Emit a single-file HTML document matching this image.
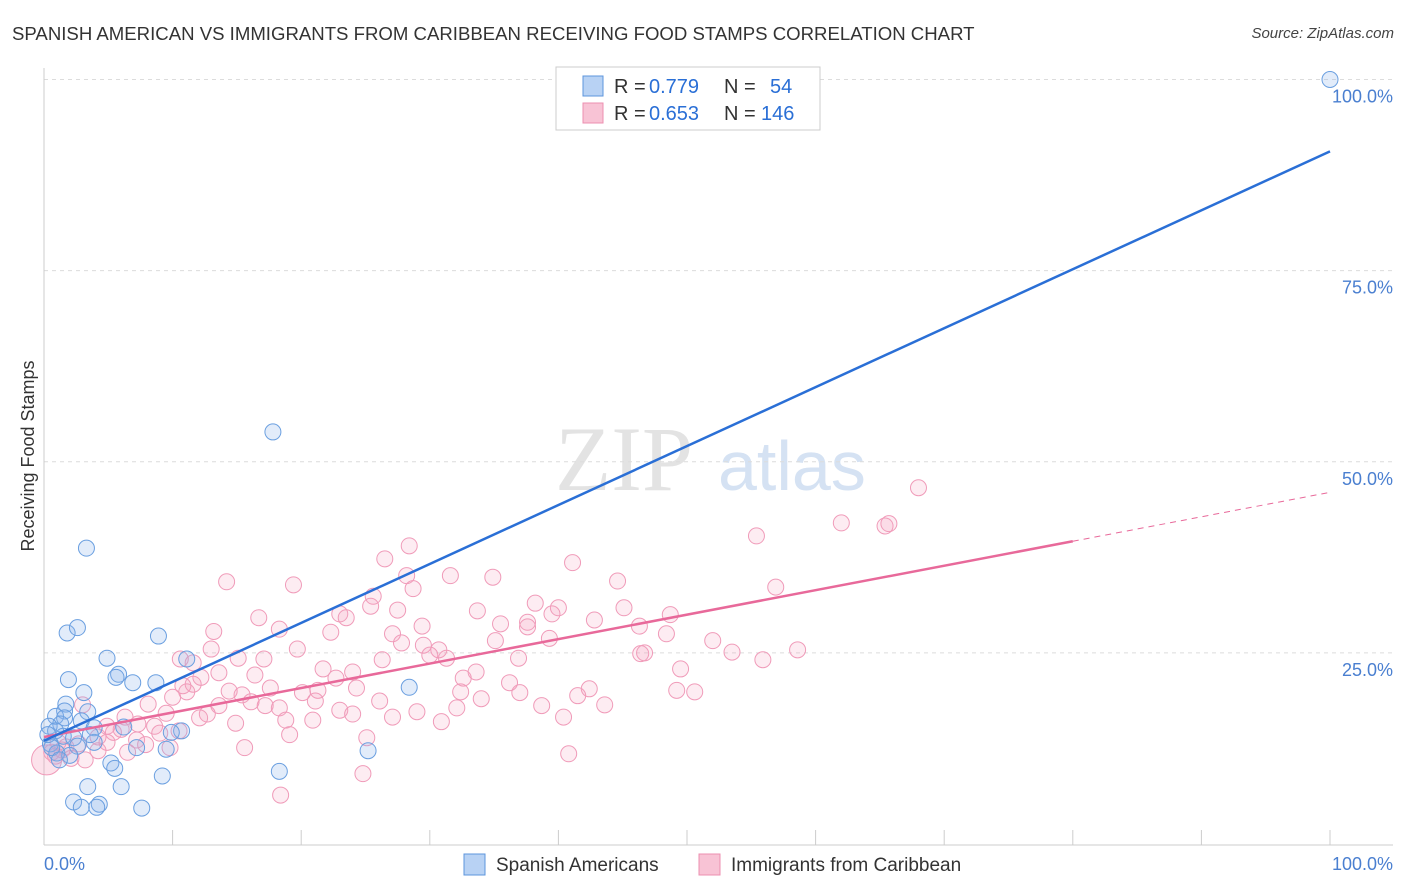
<!DOCTYPE html>
<html><head><meta charset="utf-8">
<style>
body{margin:0;background:#fff;font-family:"Liberation Sans",sans-serif;}
#wrap{position:relative;width:1406px;height:892px;overflow:hidden;}
.t{position:absolute;white-space:nowrap;}
</style></head><body>
<div id="wrap">
<div class="t" style="left:12px;top:23px;font-size:18.6px;color:#333;">SPANISH AMERICAN VS IMMIGRANTS FROM CARIBBEAN RECEIVING FOOD STAMPS CORRELATION CHART</div>
<div class="t" style="right:12px;top:25px;font-size:15px;color:#444;font-style:italic;">Source: ZipAtlas.com</div>
<svg id="svg" width="1406" height="892" style="position:absolute;left:0;top:0"></svg>
</div>
<script>
const blueX=[100,17.8,3.3,1.8,2.6,8.9,4.9,11.1,5.8,5.6,1.9,6.9,8.7,28.4,3.1,1.7,1.6,3.4,0.9,1.6,2.9,1.3,0.4,6.2,3.9,0.9,10.7,9.9,1.5,2.3,3.9,0.5,2.6,7.2,9.5,25.2,1,2,5.2,5.5,18.3,9.2,3.4,6,2.3,4.3,2.9,4.1,7.6,0.6,1.2,0.3,3.6];
const blueY=[100,53.9,38.7,27.6,28.3,27.2,24.3,24.2,22.2,21.8,21.5,21.1,21.1,20.5,19.8,18.3,17.4,17.3,16.7,16.5,16.1,15.7,15.4,15.3,15.2,14.8,14.8,14.6,14.1,13.9,13.3,13.1,12.8,12.6,12.4,12.2,11.9,11.6,10.6,9.9,9.5,8.9,7.5,7.5,5.5,5.2,4.8,4.8,4.7,12.6,11,14.3,14.3];
const pinkX=[68,62,65.4,65.7,55.4,28.4,26.5,41.1,28.2,31.6,34.9,14.2,44.6,19.4,56.9,28.7,25.6,25.4,38.2,45.1,40,33.7,39.5,48.7,23,23.5,27.5,16.7,42.8,35.5,37.6,29.4,46.3,18.3,37.6,13.2,22.3,27.1,48.4,39.3,35.1,27.8,52,29.5,13,19.7,30.7,58.6,46.7,53.5,46.4,31.3,30,15.1,17.1,26.3,36.9,55.9,10.6,11.6,21.7,49.5,33.6,24,13.6,12.2,16.4,22.7,32.6,11.6,36.2,10.8,24.3,17.6,21.3,42.4,49.2,50.6,32.4,14.4,37,15.4,20.1,11.1,41.5,10,34,26.1,16.1,21.1,43.6,8.1,3,38.7,13.6,17.2,32.1,23,29,9.5,24,12.7,18.3,27.1,40.4,6.3,20.9,18.8,30.9,14.9,12.1,7.3,8.6,4.9,6,10.5,9,19.1,4.2,25.1,7.2,4.9,2.7,1.7,15.6,1.4,40.8,0.9,2.1,24.8,18.4,5.4,7.9,9.8,4.2,6.5,1.1,0.6,3.2];
const pinkY=[46.6,42,41.6,41.9,40.3,39,37.3,36.8,35.1,35.1,34.9,34.3,34.4,33.9,33.6,33.4,32.4,31.1,31.5,30.9,30.9,30.5,30.1,30,30.1,29.6,30.6,29.6,29.3,28.8,29,28.5,28.5,28.1,28.4,27.8,27.7,27.5,27.5,26.9,26.6,26.3,26.6,26,25.5,25.5,25.4,25.4,25,25.1,24.9,24.3,24.7,24.3,24.2,24.1,24.3,24.1,24.2,23.7,22.9,22.9,22.5,22.5,22.4,21.8,22.1,21.7,21.7,20.9,21.1,20.7,20.4,20.4,20.1,20.3,20.1,19.9,19.9,20,19.8,19.5,19.8,19.9,19.4,19.2,19,18.7,18.6,18.7,18.2,18.3,18.2,18.1,18.1,18.1,17.8,17.5,17.3,17.1,17,17,17.8,16.6,16.6,16.6,16.2,16.2,16,15.8,16.5,15.7,15.4,15.4,15,14.8,14.5,14.3,14,13.9,13.6,13.3,13.1,12.7,12.6,12.3,11.8,11.5,11.2,9.2,6.4,14.6,13,12.6,12.2,12,13.3,12,11];
const blueLine=[13.5,90.6];
const pinkLine=[14,46];
const pinkSolidEnd=80;
const yTicks=[25,50,75,100];
const xTickLabels=["0.0%","100.0%"];

const X0=44,XW=1286,Y0=844,YH=764.5;
const sx=v=>X0+v/100*XW, sy=v=>Y0-v/100*YH;
const svg=document.getElementById('svg');
function el(tag,attrs,parent){const e=document.createElementNS('http://www.w3.org/2000/svg',tag);for(const k in attrs)e.setAttribute(k,attrs[k]);(parent||svg).appendChild(e);return e;}

let wm=el('text',{x:555,y:490,'font-size':92,fill:'#e3e3e3','font-family':'Liberation Serif,serif'});wm.textContent='ZIP';


let wm2=el('text',{x:718,y:490,'font-size':70,fill:'#d5e2f3','font-family':'Liberation Sans,sans-serif'});wm2.textContent='atlas';



yTicks.forEach(t=>{
 const g=el('line',{x1:X0,x2:1393,y1:sy(t),y2:sy(t),stroke:'#dcdcdc','stroke-dasharray':'4,4'});
 
 
 const l=el('text',{x:1393,y:sy(t)+23,'text-anchor':'end','font-size':18,fill:'#4a7fd0'});
 l.textContent=t.toFixed(1)+'%';
 
 
});
let ax=el('line',{x1:X0,x2:X0,y1:68,y2:845,stroke:'#ccc'});


let bx=el('line',{x1:X0,x2:1393,y1:845,y2:845,stroke:'#ccc'});


for(let i=0;i<=10;i++){
 const tk=el('line',{x1:sx(i*10),x2:sx(i*10),y1:830,y2:845,stroke:'#ccc'});
 
 
}
let xl0=el('text',{x:44,y:870,'font-size':18,fill:'#4a7fd0'});xl0.textContent=xTickLabels[0];


let xl1=el('text',{x:1393,y:870,'text-anchor':'end','font-size':18,fill:'#4a7fd0'});xl1.textContent=xTickLabels[1];


let yt=el('text',{x:34,y:456,'font-size':18,fill:'#333',transform:'rotate(-90 34 456)','text-anchor':'middle'});yt.textContent='Receiving Food Stamps';



pinkX.forEach((x,i)=>{
 const c=el('circle',{cx:sx(x),cy:sy(pinkY[i]),r:8,fill:'rgba(244,160,190,0.2)',stroke:'#f09bb9','stroke-width':1});
 
 
});
let big=el('circle',{cx:sx(0.2),cy:sy(11),r:15,fill:'rgba(244,160,190,0.3)',stroke:'#f09bb9','stroke-width':1});


blueX.forEach((x,i)=>{
 const c=el('circle',{cx:sx(x),cy:sy(blueY[i]),r:8,fill:'rgba(140,180,235,0.25)',stroke:'#6a9fe0','stroke-width':1});
 
 
});
const py=x=>pinkLine[0]+(pinkLine[1]-pinkLine[0])*x/100;
let pl=el('line',{x1:sx(0),y1:sy(py(0)),x2:sx(pinkSolidEnd),y2:sy(py(pinkSolidEnd)),stroke:'#e8699a','stroke-width':2.5});


let pd=el('line',{x1:sx(pinkSolidEnd),y1:sy(py(pinkSolidEnd)),x2:sx(100),y2:sy(py(100)),stroke:'#e8699a','stroke-width':1,'stroke-dasharray':'6,5'});


let bl=el('line',{x1:sx(0),y1:sy(blueLine[0]),x2:sx(100),y2:sy(blueLine[1]),stroke:'#2a6fd6','stroke-width':2.5});



let lg=el('rect',{x:556,y:67,width:264,height:63,fill:'#fff',stroke:'#ccc'});


[[86,'#b8d2f4','#5d95dc','0.779','54',770],[113,'#f8c3d5','#ec8fb0','0.653','146',761]].forEach(r=>{
 const s=el('rect',{x:583,y:r[0]-10,width:20,height:20,fill:r[1],stroke:r[2]});
 
 
 const a=el('text',{x:614,y:r[0]+7,'font-size':20,fill:'#333'});a.textContent='R =';
 
 
 const b=el('text',{x:649,y:r[0]+7,'font-size':20,fill:'#2a6fd6'});b.textContent=r[3];
 
 
 const c=el('text',{x:724,y:r[0]+7,'font-size':20,fill:'#333'});c.textContent='N =';
 
 
 const d=el('text',{x:r[5],y:r[0]+7,'font-size':20,fill:'#2a6fd6'});d.textContent=r[4];
 
 
});
[[464,'#b8d2f4','#5d95dc','Spanish Americans'],[699,'#f8c3d5','#ec8fb0','Immigrants from Caribbean']].forEach(r=>{
 const s=el('rect',{x:r[0],y:854,width:21,height:21,fill:r[1],stroke:r[2]});
 
 
 const t=el('text',{x:r[0]+32,y:871,'font-size':19,fill:'#333'});
 t.textContent=r[3];
 
 
});
</script>
</body></html>
